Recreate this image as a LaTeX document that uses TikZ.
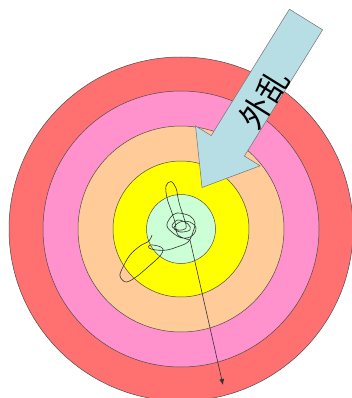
\documentclass[tikz,border=0pt]{standalone}
\usepackage{fontspec}
\newfontfamily\cjkfont{Noto Sans CJK SC}
\usetikzlibrary{arrows.meta}
\definecolor{ringred}{RGB}{255,112,112}
\definecolor{ringpink}{RGB}{255,145,204}
\definecolor{ringpeach}{RGB}{255,204,153}
\definecolor{ringyellow}{RGB}{255,255,0}
\definecolor{ringmint}{RGB}{204,255,214}
\definecolor{arrowblue}{RGB}{183,222,228}
\tikzset{
  ring/.style={draw=black!70, line width=0.5pt},
  blockarrow/.style={draw=black!55, line width=0.5pt, fill=arrowblue},
  scribble/.style={draw=black!80, line width=0.6pt},
}
\begin{document}
\begin{tikzpicture}[x=1pt,y=-1pt]
\useasboundingbox (0,0) rectangle (352,398);
\coordinate (c) at (181,229);
\fill[white] (0,0) rectangle (352,398);
\draw[ring, fill=ringred] (c) circle[radius=172];
\draw[ring, fill=ringpink] (c) circle[radius=138];
\draw[ring, fill=ringpeach] (c) circle[radius=103];
\draw[ring, fill=ringyellow] (c) circle[radius=68];
\draw[ring, fill=ringmint] (c) circle[radius=34.5];
% scribble
\draw[scribble] plot[smooth, tension=0.6] coordinates {
 (152,235) (149,241) (140,246) (130,255) (123,267) (120,276) (126,282)
 (136,277) (148,267) (160,256) (163,249) (158,246) (150,245) (149,248)
 (156,250) (167,250) (177,247) (188,242) (193,232) (195,223) (190,216)
 (177,213) (170,218) (167,226) (173,233) (182,238) (192,236) (196,228)
 (190,222) (180,222) (174,228) (180,232) (190,230) (188,224) (178,220)
 (172,226) (178,230) (186,228) (184,218) (180,206)
 (178,198) (176,188) (171,181.5) (166,186) (167,198) (171,210) (175,222)
 (178,235) (190,240)};
\coordinate (s0) at (190,240);
\coordinate (s1) at (223,385);
\draw[scribble, -{Latex[length=6pt,width=5pt]}] (s0) -- (s1);
% block arrow
\draw[blockarrow] (202,187.5) -- (260.1,165.8) -- (244.4,156.1) -- (322.6,29.8)
  -- (289.4,9.2) -- (211.2,135.6) -- (195.5,125.9) -- cycle;
\node[rotate=58.2, inner sep=0pt] (label) at (264,99) {\cjkfont\fontsize{31}{31}\selectfont 外乱};
\end{tikzpicture}
\end{document}
